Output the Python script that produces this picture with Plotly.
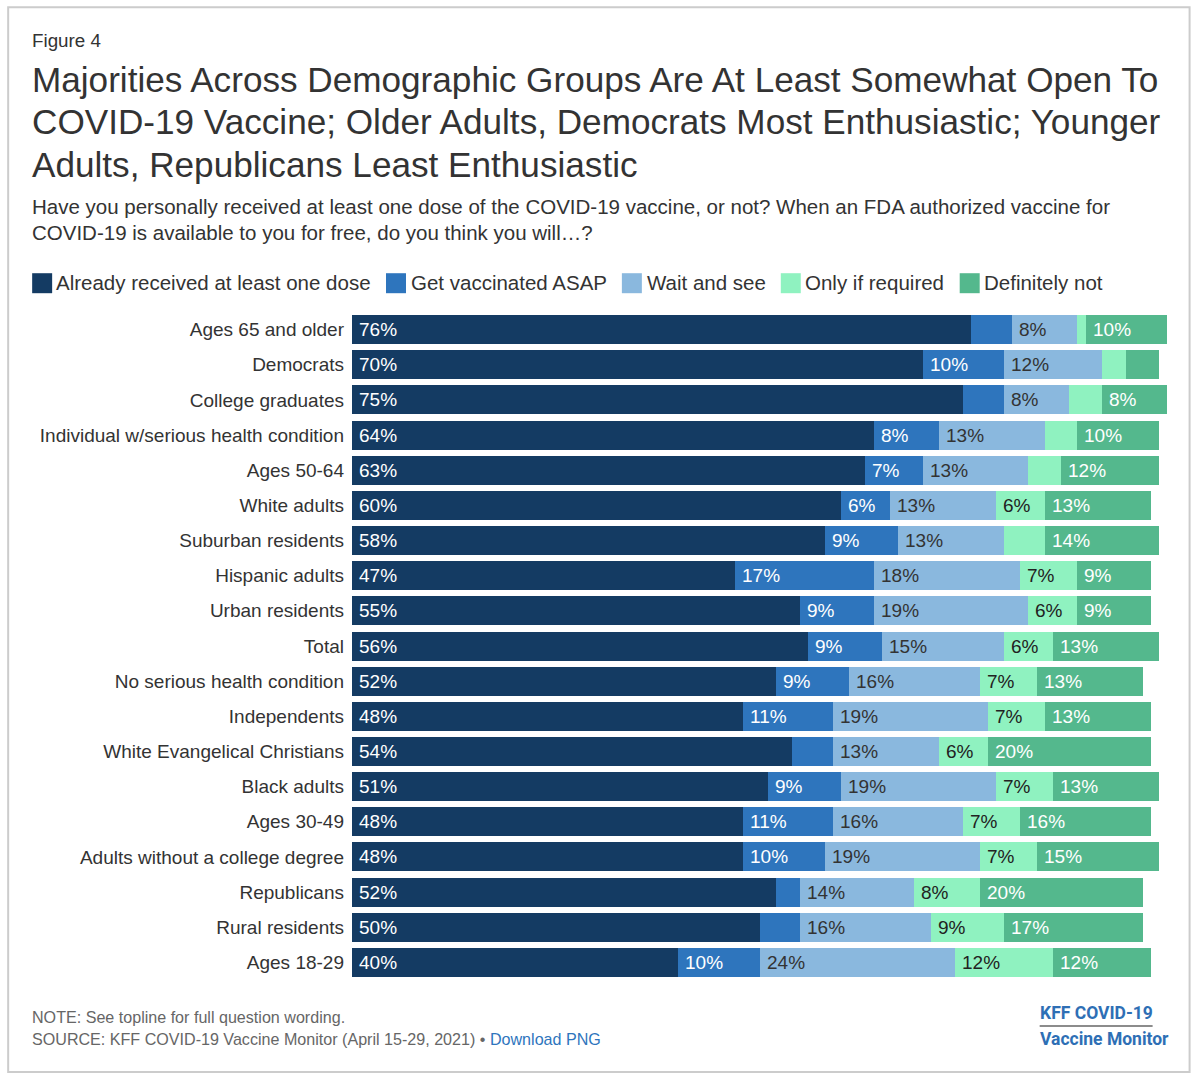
import plotly.graph_objects as go

categories = ["Ages 65 and older", "Democrats", "College graduates", "Individual w/serious health condition",
              "Ages 50-64", "White adults", "Suburban residents", "Hispanic adults", "Urban residents", "Total",
              "No serious health condition", "Independents", "White Evangelical Christians", "Black adults",
              "Ages 30-49", "Adults without a college degree", "Republicans", "Rural residents", "Ages 18-29"]
already = [76, 70, 75, 64, 63, 60, 58, 47, 55, 56, 52, 48, 54, 51, 48, 48, 52, 50, 40]
asap = [5, 10, 5, 8, 7, 6, 9, 17, 9, 9, 9, 11, 5, 9, 11, 10, 3, 5, 10]
wait = [8, 12, 8, 13, 13, 13, 13, 18, 19, 15, 16, 19, 13, 19, 16, 19, 14, 16, 24]
required = [1, 3, 4, 4, 4, 6, 5, 7, 6, 6, 7, 7, 6, 7, 7, 7, 8, 9, 12]
never = [10, 4, 8, 10, 12, 13, 14, 9, 9, 13, 13, 13, 20, 13, 16, 15, 20, 17, 12]
series_names = ["Already received at least one dose", "Get vaccinated ASAP", "Wait and see", "Only if required", "Definitely not"]
series_values = [already, asap, wait, required, never]
series_colors = ["#143b63", "#2e75bd", "#8ab8de", "#8ff2c0", "#54b88d"]
label_colors = ["#ffffff", "#ffffff", "#333333", "#222222", "#ffffff"]
title_lines = ["Majorities Across Demographic Groups Are At Least Somewhat Open To",
               "COVID-19 Vaccine; Older Adults, Democrats Most Enthusiastic; Younger",
               "Adults, Republicans Least Enthusiastic"]
subtitle_lines = ["Have you personally received at least one dose of the COVID-19 vaccine, or not? When an FDA authorized vaccine for",
                  "COVID-19 is available to you for free, do you think you will…?"]
legend_x = [32, 386, 622, 781, 960]
legend_text_x = [55, 410, 646, 804, 983]

W, H = 1200, 1083
L, R, T, B = 352, 1167.4, 311.8, 980
FONT = "Liberation Sans, Arial, sans-serif"

fig = go.Figure()
for name, vals, col in zip(series_names, series_values, series_colors):
    fig.add_trace(go.Bar(name=name, y=categories, x=vals, orientation="h",
                         marker=dict(color=col, line=dict(width=0)), showlegend=False))


def px(x):
    return (x - L) / (R - L)


def py(y):
    return (B - y) / (B - T)


def note(text, x, y, size, color="#333333", anchor="left", **kw):
    fig.add_annotation(text=text, x=px(x), y=py(y), xref="paper", yref="paper", xanchor=anchor, yanchor="middle",
                       showarrow=False, align=anchor, borderpad=0,
                       font=dict(family=kw.pop("family", FONT), size=size, color=color))


# value labels, left aligned inside each segment
for i, cat in enumerate(categories):
    left = 0
    for vals, tc in zip(series_values, label_colors):
        v = vals[i]
        if v >= 6:
            fig.add_annotation(text=f"{v}%", x=left, y=cat, xref="x", yref="y", xanchor="left", yanchor="middle",
                               xshift=6, showarrow=False, borderpad=0, font=dict(family=FONT, size=19, color=tc))
        left += v

note("Figure 4", 31, 40, 18.8)
for line, y in zip(title_lines, [79.5, 121.5, 164.5]):
    note(line, 31, y, 35.15)
for line, y in zip(subtitle_lines, [206, 232.5]):
    note(line, 31, y, 20.5)
for name, col, x, tx in zip(series_names, series_colors, legend_x, legend_text_x):
    fig.add_shape(type="rect", xref="paper", yref="paper", x0=px(x), x1=px(x + 20), y0=py(293), y1=py(273),
                  fillcolor=col, line=dict(width=0))
    note(name, tx, 282.5, 20.5)
note("NOTE: See topline for full question wording.", 31, 1017, 16.1, "#666666")
note('SOURCE: KFF COVID-19 Vaccine Monitor (April 15-29, 2021) • <span style="color:#2e75bd">Download PNG</span>',
     31, 1039, 16.1, "#666666")
note("<b>KFF COVID-19</b>", 1039, 1013, 17.5, "#2e6fb5", family="Roboto, sans-serif")
note("<b>Vaccine Monitor</b>", 1039, 1039, 17.5, "#2e6fb5", family="Roboto, sans-serif")
fig.add_shape(type="line", xref="paper", yref="paper", x0=px(1040), x1=px(1153), y0=py(1026), y1=py(1026),
              line=dict(color="#666666", width=1.5))
fig.add_shape(type="rect", xref="paper", yref="paper", x0=px(8), x1=px(1190), y0=py(1072), y1=py(7),
              line=dict(color="#cccccc", width=2), fillcolor="rgba(0,0,0,0)")

fig.update_layout(width=W, height=H, barmode="stack", bargap=0.175, plot_bgcolor="white", paper_bgcolor="white",
                  margin=dict(l=L, r=W - R, t=T, b=H - B, autoexpand=False), hovermode=False,
                  font=dict(family=FONT, color="#333333"),
                  xaxis=dict(range=[0, 100], visible=False, fixedrange=True),
                  yaxis=dict(autorange="reversed", type="category", showgrid=False, showline=False, ticks="",
                             ticklabelstandoff=7, tickfont=dict(family=FONT, size=19, color="#333333"),
                             fixedrange=True))

fig.write_html("out.html", config={"displayModeBar": False},
               post_script="document.body.style.margin='0';document.body.style.overflow='hidden';")
